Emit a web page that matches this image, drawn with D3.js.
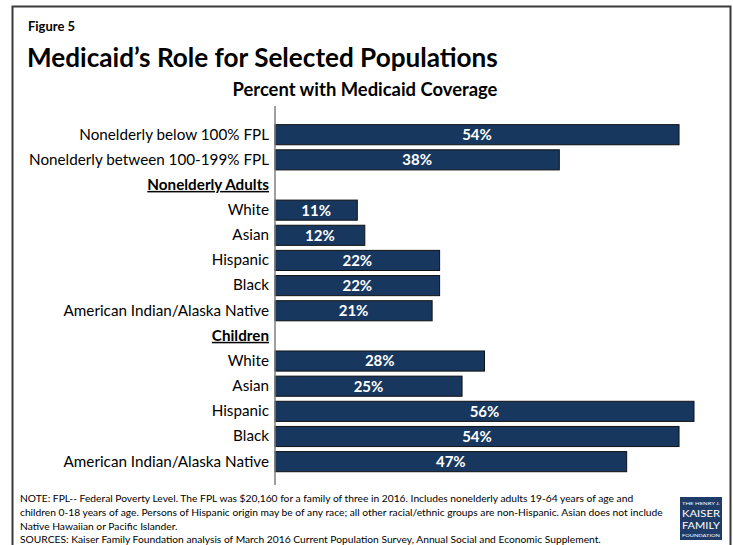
<!DOCTYPE html>
<html>
<head>
<meta charset="utf-8">
<script src="https://cdn.jsdelivr.net/npm/d3@7"></script>
<style>
  html, body { margin: 0; padding: 0; background: #fff; }
  svg { display: block; }
  text { font-family: Lato, "Open Sans", sans-serif; }
</style>
</head>
<body>
<svg id="chart" width="733" height="545"></svg>
<script>
// ---- data ----
const categories = [
  "Nonelderly below 100% FPL",
  "Nonelderly between 100-199% FPL",
  "Nonelderly Adults",
  "White",
  "Asian",
  "Hispanic",
  "Black",
  "American Indian/Alaska Native",
  "Children",
  "White ",
  "Asian ",
  "Hispanic ",
  "Black ",
  "American Indian/Alaska Native "
];
const values = [54, 38, null, 11, 12, 22, 22, 21, null, 28, 25, 56, 54, 47];
const headers = ["Nonelderly Adults", "Children"];
const valueLabels = ["54%", "38%", "", "11%", "12%", "22%", "22%", "21%", "", "28%", "25%", "56%", "54%", "47%"];

const figLabel = "Figure 5";
const title = "Medicaid\u2019s Role for Selected Populations";
const subtitle = "Percent with Medicaid Coverage";
const notes = [
  "NOTE: FPL-- Federal Poverty Level. The FPL was $20,160 for a family of three in 2016. Includes nonelderly adults 19-64 years of age and",
  "children 0-18 years of age. Persons of Hispanic origin may be of any race; all other racial/ethnic groups are non-Hispanic. Asian does not include",
  "Native Hawaiian or Pacific Islander.",
  "SOURCES: Kaiser Family Foundation analysis of March 2016 Current Population Survey, Annual Social and Economic Supplement."
];

// ---- drawing ----
const svg = d3.select("#chart");

function fitWidth(sel, target) {
  const node = sel.node();
  const fs = parseFloat(sel.attr("font-size"));
  const w = node.getComputedTextLength();
  if (w > 0) sel.attr("font-size", (fs * target / w).toFixed(2));
  return sel;
}

// frame
svg.append("path")
  .attr("d", "M12.5,545 L12.5,6.5 L730.5,6.5 L730.5,545")
  .attr("fill", "none").attr("stroke", "#3a3a3a").attr("stroke-width", 2);

// headings
svg.append("text").attr("x", 28).attr("y", 31).attr("font-size", 11)
  .attr("font-weight", "bold").attr("fill", "#000").text(figLabel)
  .call(s => fitWidth(s, 47));
svg.append("text").attr("x", 27).attr("y", 67).attr("font-size", 26)
  .attr("font-weight", "bold").attr("fill", "#000").text(title)
  .call(s => fitWidth(s, 471));
svg.append("text").attr("x", 365).attr("y", 96).attr("font-size", 16)
  .attr("text-anchor", "middle")
  .attr("font-weight", "bold").attr("fill", "#000").text(subtitle)
  .call(s => fitWidth(s, 265));

// scales
const x0 = 275;
const x = d3.scaleLinear().domain([0, 56]).range([x0, 694]);
const step = 25.15;
const bandTop = 134.7 - step / 2;
const y = d3.scaleBand().domain(categories)
  .range([bandTop, bandTop + step * categories.length])
  .paddingInner(0.2).paddingOuter(0.1);

const rows = categories.map((c, i) => ({ c, v: values[i], lab: valueLabels[i], header: headers.includes(c) }));

// bars
svg.append("g").selectAll("rect")
  .data(rows.filter(d => d.v != null))
  .join("rect")
  .attr("x", x(0))
  .attr("y", d => y(d.c))
  .attr("width", d => x(d.v) - x(0))
  .attr("height", y.bandwidth())
  .attr("fill", "#17375E")
  .attr("stroke", "#111")
  .attr("stroke-width", 1);

// value labels
svg.append("g").selectAll("text")
  .data(rows.filter(d => d.v != null))
  .join("text")
  .attr("x", d => (x(0) + x(d.v)) / 2)
  .attr("y", d => y(d.c) + y.bandwidth() / 2)
  .attr("dy", "0.36em")
  .attr("text-anchor", "middle")
  .attr("font-size", 15)
  .attr("font-weight", "bold")
  .attr("fill", "#fff")
  .text(d => d.lab);

// category axis
const yAxis = d3.axisLeft(y).tickSize(0).tickPadding(6).tickFormat(d => d.trim());
const ag = svg.append("g").attr("transform", `translate(${x0},0)`).call(yAxis);
ag.select(".domain").remove();
ag.selectAll("text")
  .attr("font-size", 15)
  .attr("fill", "#000")
  .attr("font-family", "Lato, sans-serif")
  .attr("font-weight", d => headers.includes(d) ? "bold" : "normal")
  .attr("text-decoration", d => headers.includes(d) ? "underline" : null);
// fit the longest label
const longest = ag.selectAll("text").filter(d => d === "Nonelderly between 100-199% FPL");
const lw = longest.node().getComputedTextLength();
const fsz = 15 * 240 / lw;
ag.selectAll("text").attr("font-size", fsz.toFixed(2));

svg.append("line")
  .attr("x1", x0).attr("x2", x0).attr("y1", 106).attr("y2", 485)
  .attr("stroke", "#7f7f7f").attr("stroke-width", 1.5);

// notes
const ng = svg.append("g");
const noteYs = [502, 516, 530, 543];
const nt = ng.selectAll("text").data(notes).join("text")
  .attr("x", 20).attr("y", (d, i) => noteYs[i])
  .attr("font-size", 10).attr("fill", "#000").text(d => d);
const n2 = nt.filter((d, i) => i === 1).node().getComputedTextLength();
nt.attr("font-size", (10 * 643 / n2).toFixed(2));

// logo
const lg = svg.append("g").attr("transform", "translate(680,497)");
lg.append("rect").attr("width", 42).attr("height", 43).attr("fill", "#1f3b68");
const lt = [
  { t: "THE HENRY J.", y: 7.5, s: 4.5 },
  { t: "KAISER", y: 19.5, s: 10 },
  { t: "FAMILY", y: 31.5, s: 10 },
  { t: "FOUNDATION", y: 39.5, s: 4 }
];
lg.selectAll("text").data(lt).join("text")
  .attr("x", 21).attr("y", d => d.y).attr("text-anchor", "middle")
  .attr("font-family", "Liberation Serif, serif")
  .attr("font-size", d => d.s).attr("fill", "#fff")
  .attr("textLength", 38).attr("lengthAdjust", "spacingAndGlyphs")
  .text(d => d.t);
</script>
</body>
</html>
